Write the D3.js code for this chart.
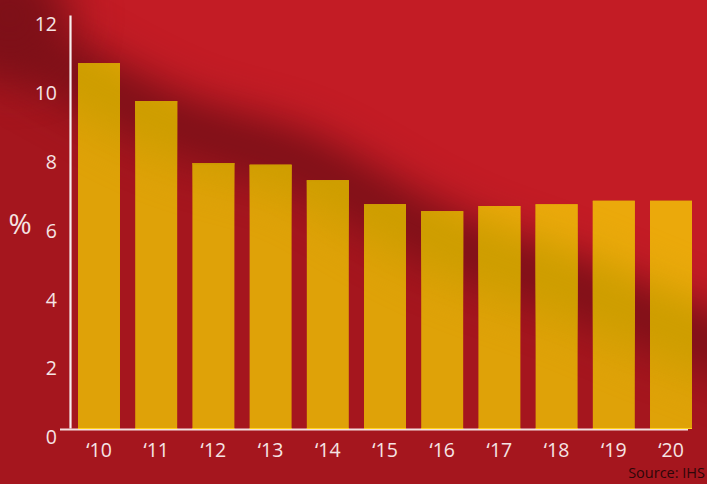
<!DOCTYPE html>
<html>
<head>
<meta charset="utf-8">
<script src="https://cdn.jsdelivr.net/npm/d3@7/dist/d3.min.js"></script>
<style>
  html, body { margin: 0; padding: 0; background: #a9171f; }
  svg { display: block; }
  text { font-family: "Open Sans", "Noto Sans", sans-serif; }
</style>
</head>
<body>
<svg id="chart" width="707" height="484"></svg>
<script>
// ---- data ----
const years = ["\u201810", "\u201811", "\u201812", "\u201813", "\u201814", "\u201815", "\u201816", "\u201817", "\u201818", "\u201819", "\u201820"];
const values = [10.6, 9.5, 7.7, 7.65, 7.2, 6.5, 6.3, 6.45, 6.5, 6.6, 6.6];
const yTicks = [0, 2, 4, 6, 8, 10, 12];
const yLabel = "%";
const sourceText = "Source: IHS";

// ---- layout ----
const W = 707, H = 484;
const svg = d3.select("#chart");
const defs = svg.append("defs");

const x = d3.scaleBand().domain(years).range([70.4, 699.6]).paddingInner(0.266).paddingOuter(0.133);
const y = d3.scaleLinear().domain([0, 12]).range([428, 15]);

// ---- background shading ----
const bandPts = [[-40, 10], [40, 55], [130, 105], [190, 132], [245, 145], [300, 160], [356, 192], [413, 226], [470, 252], [527, 271], [585, 291], [642, 316], [700, 338], [760, 362]];
const bandLine = d3.line().curve(d3.curveBasis);
const upperPoly = bandPts.concat([[760, -60], [-40, -60]]);

const blur = (id, sd) => defs.append("filter").attr("id", id)
  .attr("x", "-50%").attr("y", "-50%").attr("width", "200%").attr("height", "200%")
  .attr("color-interpolation-filters", "sRGB")
  .append("feGaussianBlur").attr("stdDeviation", sd);
blur("b1", 24);
blur("b2", 20);

const bg = svg.append("g");
bg.append("rect").attr("width", W).attr("height", H).attr("fill", "#a5161e");
bg.append("path").attr("d", d3.line()(upperPoly) + "Z").attr("fill", "#c31c25").attr("filter", "url(#b1)");
bg.append("path").attr("d", bandLine(bandPts)).attr("fill", "none").attr("stroke", "#7e1018").attr("stroke-width", 60).attr("stroke-linecap", "round").attr("filter", "url(#b2)");
bg.append("circle").attr("cx", 10).attr("cy", 15).attr("r", 60).attr("fill", "#7e1018").attr("filter", "url(#b1)");

// ---- bars ----
const clip = defs.append("clipPath").attr("id", "barclip");
clip.selectAll("rect").data(values).join("rect")
  .attr("x", (d, i) => x(years[i]))
  .attr("y", d => y(d))
  .attr("width", x.bandwidth())
  .attr("height", d => y(0) - y(d) + 1);

const barsG = svg.append("g");
barsG.selectAll("rect.bar").data(values).join("rect").attr("class", "bar")
  .attr("x", (d, i) => x(years[i]))
  .attr("y", d => y(d))
  .attr("width", x.bandwidth())
  .attr("height", d => y(0) - y(d) + 1)
  .attr("fill", "#dfa208");

const shade = svg.append("g").attr("clip-path", "url(#barclip)");
shade.append("path").attr("d", d3.line()(upperPoly) + "Z").attr("fill", "#eba90b").attr("filter", "url(#b1)");
shade.append("path").attr("d", bandLine(bandPts)).attr("fill", "none").attr("stroke", "#cd9d00").attr("stroke-width", 70).attr("filter", "url(#b2)");

// bar top edges
barsG.selectAll("line.top").data(values).join("line").attr("class", "top")
  .attr("x1", (d, i) => x(years[i]))
  .attr("x2", (d, i) => x(years[i]) + x.bandwidth())
  .attr("y1", d => y(d) + 0.75)
  .attr("y2", d => y(d) + 0.75)
  .attr("stroke", "#c48a04").attr("stroke-width", 1.5).attr("opacity", 0.8);

// ---- axes ----
const baseY = y(0) + 1.5;
svg.append("line").attr("x1", 60).attr("x2", 688).attr("y1", baseY).attr("y2", baseY)
  .attr("stroke", "#f4dede").attr("stroke-width", 2);
svg.selectAll("line.ybot").data(values).join("line").attr("class", "ybot")
  .attr("x1", (d, i) => x(years[i]))
  .attr("x2", (d, i) => x(years[i]) + x.bandwidth())
  .attr("y1", y(0) + 0.5).attr("y2", y(0) + 0.5)
  .attr("stroke", "#ffd21e").attr("stroke-width", 1.2);

const yAxis = d3.axisLeft(y).tickValues(yTicks).tickSize(0).tickPadding(13);
const gy = svg.append("g").attr("transform", "translate(70,0)").call(yAxis);
gy.select(".domain").attr("stroke", "#f7eeee").attr("stroke-width", 2.2);
gy.selectAll(".tick text")
  .attr("fill", "#f5e4e4")
  .attr("font-size", 19.5)
  .attr("font-family", "'Open Sans', sans-serif")
  .attr("dy", "0.35em")
  .attr("transform", "translate(0,9)");

const xAxis = d3.axisBottom(x).tickSize(0).tickPadding(0);
const gx = svg.append("g").attr("transform", `translate(0,${y(0)})`).call(xAxis);
gx.select(".domain").remove();
gx.selectAll(".tick text")
  .attr("fill", "#f5e4e4")
  .attr("font-size", 19.5)
  .attr("font-family", "'Open Sans', sans-serif")
  .attr("dy", 0)
  .attr("y", 29);

svg.append("text").attr("x", 20).attr("y", 234).attr("text-anchor", "middle")
  .attr("fill", "#f5e4e4").attr("font-size", 28).text(yLabel);

svg.append("text").attr("x", 705).attr("y", 478).attr("text-anchor", "end")
  .attr("fill", "#2e0709").attr("font-size", 14.5).text(sourceText);
</script>
</body>
</html>
